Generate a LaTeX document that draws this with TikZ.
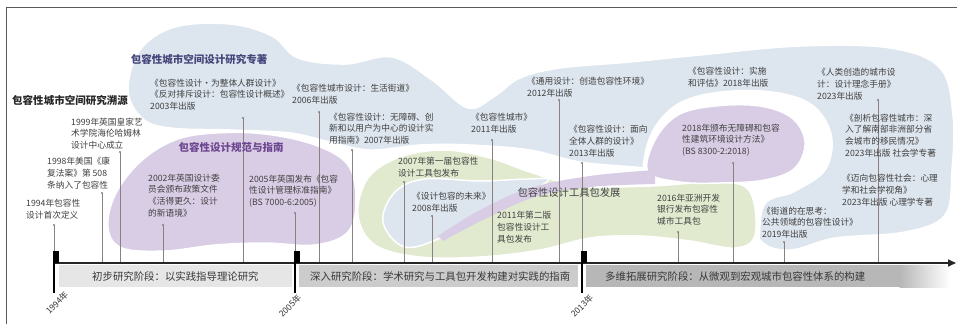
\documentclass[tikz,border=0pt]{standalone}
\usepackage{fontspec}
\setmainfont{Noto Sans CJK SC}
\usetikzlibrary{arrows.meta}
\definecolor{blobblue}{HTML}{DDE5EE}
\definecolor{blobpurple}{HTML}{D9CDE5}
\definecolor{blobgreen}{HTML}{E1EACF}
\definecolor{txtgray}{HTML}{404040}
\definecolor{stemcol}{HTML}{8A8080}
\definecolor{navytitle}{HTML}{45457A}
\definecolor{purpletitle}{HTML}{6D4690}
\definecolor{framecol}{HTML}{5A5A5A}
\definecolor{bandA}{HTML}{E6E6E6}
\definecolor{bandB}{HTML}{CCCCCC}
\definecolor{bandC}{HTML}{B7B7B7}
\begin{document}
\begin{tikzpicture}[x=1pt,y=-1pt,
  item/.style={anchor=west, align=left, inner sep=0pt, text=txtgray, font=\fontsize{8.7}{11.8}\selectfont},
  titlebold/.style={inner sep=0pt, font=\fontsize{10.5}{12}\selectfont\bfseries},
  titleplain/.style={inner sep=0pt, text=txtgray, font=\fontsize{10.3}{12}\selectfont},
  bandtxt/.style={anchor=west, inner sep=0pt, text=black!78, font=\fontsize{10.4}{12}\selectfont},
  yearlbl/.style={inner sep=0pt, rotate=45, text=black!80, font=\fontsize{8.5}{10}\selectfont},
  stem/.style={draw=stemcol, line width=0.7pt},
  blob/.style={draw=white, line width=1.5pt}]
\useasboundingbox (0,0) rectangle (957,324);
\fill[white] (0,0) rectangle (957,324);
% frame
\draw[framecol, line width=1pt] (6.5,324) -- (6.5,7) -- (957,7);
% blobs
\fill[blobblue, blob] plot[smooth cycle, tension=0.6] coordinates {(128,90) (140,50) (175,27) (230,24) (272,36) (298,58) (345,64) (392,57) (432,80) (468,108) (495,96) (520,78) (560,68) (630,62) (700,55) (800,46) (890,48) (940,68) (953,115) (952,170) (945,215) (905,232) (835,238) (790,250) (760,240) (745,200) (700,175) (645,168) (580,162) (530,150) (470,145) (420,145) (370,150) (330,142) (290,133) (230,130) (170,128) (142,118)};
\fill[white] plot[smooth cycle, tension=0.6] coordinates {(643,175) (650,135) (675,105) (715,92) (770,91) (812,104) (832,135) (826,170) (795,192) (765,205) (758,248) (742,250) (738,200) (700,188) (660,186)};
\fill[blobgreen, blob] plot[smooth cycle, tension=0.6] coordinates {(358,215) (368,178) (400,157) (445,150) (490,158) (530,172) (580,186) (650,186) (720,182) (750,192) (755,235) (735,248) (690,241) (640,236) (590,238) (540,250) (480,257) (420,257) (375,245)};
\fill[blobblue, blob] plot[smooth cycle, tension=0.6] coordinates {(383,222) (395,192) (425,179) (480,181) (528,179) (548,181) (505,204) (445,236) (405,247)};
\fill[blobpurple, blob] plot[smooth cycle, tension=0.6] coordinates {(108,228) (115,195) (140,162) (175,140) (215,133) (265,134) (315,145) (348,165) (356,200) (348,232) (315,245) (265,243) (215,245) (165,251) (122,248)};
\fill[blobpurple, blob] plot[smooth cycle, tension=0.6] coordinates {(648,172) (655,140) (678,115) (715,106) (760,106) (792,118) (805,142) (795,168) (765,180) (720,183) (680,182)};
\fill[blobpurple] plot[smooth, tension=0.6] coordinates {(438,236) (480,210) (530,188) (590,176) (655,170)} -- plot[smooth, tension=0.6] coordinates {(655,184) (590,187) (535,197) (485,219) (443,241)} -- cycle;
% bands
\fill[bandA] (59,265) rectangle (292,287);
\fill[bandB] (299,265) rectangle (578,287);
\fill[bandC] (586,265) rectangle (900,287);
\shade[left color=bandC, right color=white] (899.5,265) rectangle (950,287);
% stems
\foreach \n/\x/\t in {s1999/120/152, s1998/102/193, s2002/163/225, s2003/243/118, s2006/319/112, s2007g/352/150, s2007t/404/182, s2008/432/216, s2011/492/140, s2012/559/100, s2016/678/232, s2018/733/163, s2019/784/242, s2023/878/100, y1994/54/225, y2005/295/213, y2013/582/163}{
  \coordinate (top\n) at (\x,\t);
  \coordinate (ax\n) at (\x,263);
  \draw[stem] (top\n) -- (ax\n);
  \fill[stemcol] (top\n) circle (1.1);
}
% axis
\coordinate (axstart) at (53,263);
\coordinate (axend) at (956,263);
\draw[black!85, line width=1.5pt, -{Triangle[length=8pt,width=7pt]}] (axstart) -- (axend);
% year markers
\foreach \n/\x in {1994/54, 2005/295, 2013/582}{
  \fill[black] (\x-1.5,251) rectangle (\x+4.5,263);
  \coordinate (yb\n) at (\x,263);
  \coordinate (ye\n) at (\x,293);
  \draw[black, line width=1.8pt] (yb\n) -- (ye\n);
}
\node[yearlbl] (l1994) at (57,303) {1994年};
\node[yearlbl] (l2005) at (290,306) {2005年};
\node[yearlbl] (l2013) at (582,306) {2013年};
% band texts
\node[bandtxt] (b1) at (92,277) {初步研究阶段：以实践指导理论研究};
\node[bandtxt] (b2) at (310,277) {深入研究阶段：学术研究与工具包开发构建对实践的指南};
\node[bandtxt] (b3) at (605,277) {多维拓展研究阶段：从微观到宏观城市包容性体系的构建};
% titles
\node[titlebold, text=black!85] (tsy) at (70,100) {包容性城市空间研究溯源};
\node[titlebold, text=navytitle] (tzz) at (199,59) {包容性城市空间设计研究专著};
\node[titlebold, text=purpletitle] (tgf) at (231,147) {包容性设计规范与指南};
\node[titleplain] (tgj) at (569,193) {包容性设计工具包发展};
% items
\node[item] (i1999) at (71,133.5) {1999年英国皇家艺\\术学院海伦哈姆林\\设计中心成立};
\node[item] (i1998) at (47,173) {1998年美国《康\\复法案》第 508\\条纳入了包容性};
\node[item] (i1994) at (26,209) {1994年包容性\\设计首次定义};
\node[item] (i2002) at (148,195.5) {2002年英国设计委\\员会颁布政策文件\\《活得更久：设计\\的新语境》};
\node[item] (i2003) at (150,94.5) {《包容性设计・为整体人群设计》\\《反对排斥设计：包容性设计概述》\\2003年出版};
\node[item] (i2006) at (292,94.5) {《包容性城市设计：生活街道》\\2006年出版};
\node[item] (i2007g) at (329,128.5) {《包容性设计：无障碍、创\\新和以用户为中心的设计实\\用指南》2007年出版};
\node[item] (i2005) at (249,191) {2005年英国发布《包容\\性设计管理标准指南》\\(BS 7000-6:2005)};
\node[item] (i2007t) at (398,167.5) {2007年第一届包容性\\设计工具包发布};
\node[item] (i2008) at (412,202) {《设计包容的未来》\\2008年出版};
\node[item] (i2011) at (471,123.5) {《包容性城市》\\2011年出版};
\node[item] (i2011t) at (497,227) {2011年第二版\\包容性设计工\\具包发布};
\node[item] (i2012) at (527,87.5) {《通用设计：创造包容性环境》\\2012年出版};
\node[item] (i2013) at (569,141) {《包容性设计：面向\\全体人群的设计》\\2013年出版};
\node[item] (i2016) at (657,209.5) {2016年亚洲开发\\银行发布包容性\\城市工具包};
\node[item] (i2018b) at (682,140) {2018年颁布无障碍和包容\\性建筑环境设计方法》\\(BS 8300-2:2018)};
\node[item] (i2018p) at (688,77) {《包容性设计：实施\\和评估》2018年出版};
\node[item] (i2023a) at (817,84) {《人类创造的城市设\\计：设计理念手册》\\2023年出版};
\node[item] (i2023b) at (845,135.5) {《剖析包容性城市：深\\入了解南部非洲部分省\\会城市的移民情况》\\2023年出版 社会学专著};
\node[item] (i2023c) at (842,190) {《迈向包容性社会：心理\\学和社会学视角》\\2023年出版 心理学专著};
\node[item] (i2019) at (762,222.5) {《街道的在思考：\\公共领域的包容性设计》\\2019年出版};
\end{tikzpicture}
\end{document}
